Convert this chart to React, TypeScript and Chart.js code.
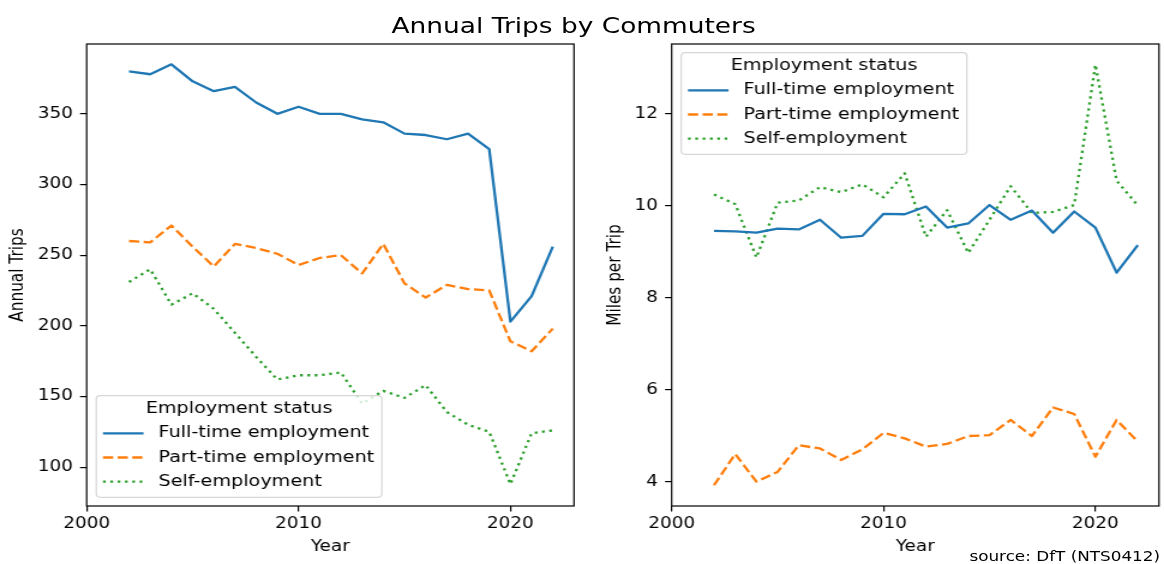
import React, { useEffect, useRef } from "react";
import { Chart, registerables } from "chart.js";

Chart.register(...registerables);

// ---- data -------------------------------------------------------------
const years = [
  2002, 2003, 2004, 2005, 2006, 2007, 2008, 2009, 2010, 2011, 2012,
  2013, 2014, 2015, 2016, 2017, 2018, 2019, 2020, 2021, 2022,
];

// Annual trips per commuter
const fullTimeTrips = [380, 378, 385, 373, 366, 369, 358, 350, 355, 350, 350, 346, 344, 336, 335, 332, 336, 325, 203, 221, 256];
const partTimeTrips = [260, 259, 271, 256, 242, 258, 255, 251, 243, 248, 250, 237, 258, 230, 220, 229, 226, 225, 189, 182, 198];
const selfTrips = [231, 240, 215, 223, 212, 195, 178, 162, 165, 165, 167, 145, 154, 149, 158, 139, 130, 125, 88, 124, 126];

// Average miles per commuting trip
const fullTimeMiles = [9.46, 9.45, 9.42, 9.51, 9.49, 9.7, 9.31, 9.35, 9.83, 9.82, 9.99, 9.53, 9.62, 10.02, 9.7, 9.9, 9.42, 9.88, 9.53, 8.55, 9.15];
const partTimeMiles = [3.93, 4.61, 4.01, 4.22, 4.8, 4.73, 4.48, 4.71, 5.07, 4.95, 4.77, 4.83, 5.0, 5.02, 5.35, 5.0, 5.62, 5.48, 4.55, 5.35, 4.88];
const selfMiles = [10.25, 10.04, 8.88, 10.07, 10.12, 10.41, 10.3, 10.47, 10.19, 10.71, 9.33, 9.91, 8.98, 9.7, 10.43, 9.85, 9.87, 10.02, 13.07, 10.55, 10.01];

const seriesNames = ["Full-time employment", "Part-time employment", "Self-employment"];
const legendTitle = "Employment status";

const yearTicks = [2000, 2010, 2020];
const tripTicks = [100, 150, 200, 250, 300, 350];
const mileTicks = [4, 6, 8, 10, 12];

const figureTitle = "Annual Trips by Commuters";
const sourceNote = "source: DfT (NTS0412)";

// ---- styling ----------------------------------------------------------
const FONT = "'DejaVu Sans', 'Liberation Sans', sans-serif";
const STRETCH = 1.2; // figure is laid out narrow, then widened horizontally
const BASE_W = 970;
const FIG_H = 564;

const COLORS = ["#1f77b4", "#ff7f0e", "#2ca02c"];
const DASHES: number[][] = [[], [8.5, 3.7], [2.3, 3.8]];
const LINE_W = 2.3;

// Box around the plotting area (all four spines).
const spinesPlugin = {
  id: "spines",
  afterDatasetsDraw(chart: any) {
    const { ctx, chartArea } = chart;
    ctx.save();
    ctx.strokeStyle = "#000";
    ctx.lineWidth = 1.2;
    ctx.strokeRect(chartArea.left, chartArea.top, chartArea.right - chartArea.left, chartArea.bottom - chartArea.top);
    ctx.restore();
  },
};

// Framed legend with a title, placed inside the plotting area.
const boxLegendPlugin = {
  id: "boxLegend",
  afterDraw(chart: any, _args: any, opts: any) {
    const { ctx, chartArea } = chart;
    const w = 238;
    const h = 101.6;
    const x = chartArea.left + 8;
    const y = opts.corner === "bottom" ? chartArea.bottom - 8.7 - h : chartArea.top + 8.7;
    ctx.save();
    ctx.beginPath();
    ctx.roundRect(x, y, w, h, 3.5);
    ctx.fillStyle = "rgba(255,255,255,0.8)";
    ctx.fill();
    ctx.strokeStyle = "rgba(204,204,204,0.8)";
    ctx.lineWidth = 1.2;
    ctx.stroke();

    ctx.font = `16px ${FONT}`;
    ctx.fillStyle = "#000";
    ctx.textBaseline = "middle";
    ctx.textAlign = "center";
    ctx.fillText(opts.title, x + w / 2, y + 12.8);

    chart.data.datasets.forEach((ds: any, i: number) => {
      const cy = y + 37.6 + i * 24.2;
      ctx.beginPath();
      ctx.setLineDash(ds.borderDash || []);
      ctx.strokeStyle = ds.borderColor;
      ctx.lineWidth = LINE_W;
      ctx.moveTo(x + 5.6, cy);
      ctx.lineTo(x + 39.4, cy);
      ctx.stroke();
      ctx.setLineDash([]);
      ctx.textAlign = "left";
      ctx.fillStyle = "#000";
      ctx.fillText(ds.label, x + 51.9, cy);
    });
    ctx.restore();
  },
};

type PanelProps = {
  left: number;
  width: number;
  series: number[][];
  yLabel: string;
  yMin: number;
  yMax: number;
  yTicks: number[];
  yAxisWidth: number;
  padRight: number;
  yTitlePad: number;
  legendCorner: "top" | "bottom";
};

function Panel(props: PanelProps) {
  const ref = useRef<HTMLCanvasElement | null>(null);

  useEffect(() => {
    if (!ref.current) return;
    const tickFont = { family: FONT, size: 15.3 };
    const axisGrid = {
      display: true,
      drawOnChartArea: false,
      drawTicks: true,
      tickLength: 5.5,
      tickWidth: 1.2,
      tickColor: "#000",
      color: "#000",
      lineWidth: 1.2,
    };

    const chart = new Chart(ref.current, {
      type: "line",
      data: {
        datasets: props.series.map((vals, i) => ({
          label: seriesNames[i],
          data: years.map((yr, j) => ({ x: yr, y: vals[j] })),
          borderColor: COLORS[i],
          backgroundColor: COLORS[i],
          borderWidth: LINE_W,
          borderDash: DASHES[i],
          borderJoinStyle: "round",
          borderCapStyle: "butt",
          pointRadius: 0,
          tension: 0,
          fill: false,
        })),
      },
      options: {
        animation: false,
        responsive: false,
        maintainAspectRatio: false,
        events: [],
        layout: { padding: { left: 0, right: props.padRight, top: 44, bottom: 0 } },
        plugins: {
          legend: { display: false },
          tooltip: { enabled: false },
          // @ts-ignore custom plugin options
          boxLegend: { corner: props.legendCorner, title: legendTitle },
        },
        scales: {
          x: {
            type: "linear",
            min: 2000,
            max: 2023,
            afterBuildTicks: (s: any) => {
              s.ticks = yearTicks.map((v) => ({ value: v }));
            },
            afterFit: (s: any) => {
              s.height = FIG_H - 506;
            },
            grid: axisGrid,
            border: { display: false },
            ticks: {
              font: tickFont,
              color: "#000",
              padding: 3.5,
              maxRotation: 0,
              callback: (v: any) => String(v),
            },
            title: {
              display: true,
              text: "Year",
              color: "#000",
              font: { family: FONT, size: 15.3 },
              padding: { top: 0, bottom: 8 },
            },
          },
          y: {
            type: "linear",
            min: props.yMin,
            max: props.yMax,
            afterBuildTicks: (s: any) => {
              s.ticks = props.yTicks.map((v) => ({ value: v }));
            },
            afterFit: (s: any) => {
              s.width = props.yAxisWidth;
            },
            grid: axisGrid,
            border: { display: false },
            ticks: {
              font: tickFont,
              color: "#000",
              padding: 6,
              callback: (v: any) => String(v),
            },
            title: {
              display: true,
              text: props.yLabel,
              color: "#000",
              font: { family: FONT, size: 15.3 },
              padding: { top: props.yTitlePad, bottom: 0 },
            },
          },
        },
      },
      plugins: [spinesPlugin, boxLegendPlugin],
    } as any);

    return () => chart.destroy();
  }, []);

  return (
    <canvas
      ref={ref}
      width={props.width}
      height={FIG_H}
      style={{ position: "absolute", left: props.left, top: 0, display: "block" }}
    />
  );
}

export default function App() {
  return (
    <div
      style={{
        position: "absolute",
        left: 0,
        top: 0,
        width: BASE_W,
        height: FIG_H,
        background: "#fff",
        transform: `scaleX(${STRETCH})`,
        transformOrigin: "0 0",
        overflow: "hidden",
      }}
    >
      <Panel
        left={0}
        width={485}
        series={[fullTimeTrips, partTimeTrips, selfTrips]}
        yLabel="Annual Trips"
        yMin={72.5}
        yMax={399.4}
        yTicks={tripTicks}
        yAxisWidth={72.2}
        padRight={6.7}
        yTitlePad={6.3}
        legendCorner="bottom"
      />
      <Panel
        left={485}
        width={485}
        series={[fullTimeMiles, partTimeMiles, selfMiles]}
        yLabel="Miles per Trip"
        yMin={3.48}
        yMax={13.52}
        yTicks={mileTicks}
        yAxisWidth={74.7}
        padRight={4.2}
        yTitlePad={19}
        legendCorner="top"
      />
      <div
        style={{
          position: "absolute",
          left: 0,
          top: 14.7,
          width: 956,
          textAlign: "center",
          fontFamily: FONT,
          fontSize: 22,
          lineHeight: "22px",
          color: "#000",
          whiteSpace: "nowrap",
        }}
      >
        {figureTitle}
      </div>
      <div
        style={{
          position: "absolute",
          left: 0,
          top: 549.2,
          width: 966.7,
          textAlign: "right",
          fontFamily: FONT,
          fontSize: 14,
          lineHeight: "14px",
          color: "#000",
          whiteSpace: "nowrap",
        }}
      >
        {sourceNote}
      </div>
    </div>
  );
}
